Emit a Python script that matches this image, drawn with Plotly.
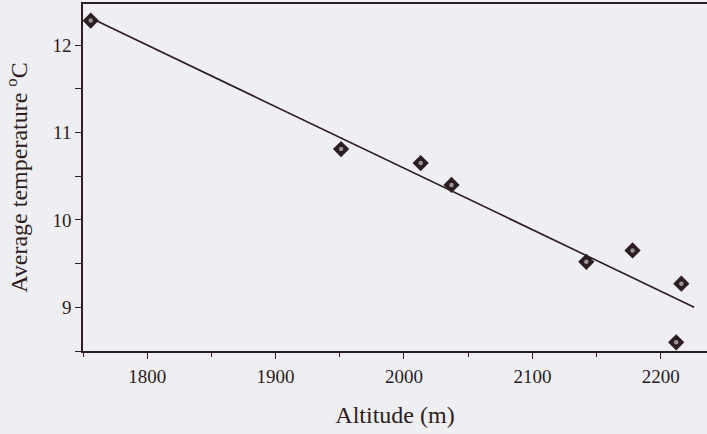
import numpy as np
import plotly.graph_objects as go

altitude = [1756, 1951, 2013, 2037, 2142, 2178, 2216, 2212]
temperature = [12.28, 10.81, 10.65, 10.40, 9.52, 9.65, 9.27, 8.60]
x_ticks = [1800, 1900, 2000, 2100, 2200]
y_ticks = [9, 10, 11, 12]
trend_end = 2226

slope, intercept = np.polyfit(altitude, temperature, 1)
trend_x = np.array([min(altitude), trend_end])
trend_y = slope * trend_x + intercept

ink = "#2b1d22"
bg = "#efeef3"
fig = go.Figure()
fig.add_trace(go.Scatter(x=trend_x, y=trend_y, mode="lines",
                         line=dict(color=ink, width=1.6), showlegend=False))
fig.add_trace(go.Scatter(x=altitude, y=temperature, mode="markers",
                         marker=dict(symbol="diamond", size=12.5, color=ink,
                                     line=dict(width=0)), showlegend=False))
fig.add_trace(go.Scatter(x=altitude, y=temperature, mode="markers",
                         marker=dict(symbol="circle", size=4.5, color="#9a9498",
                                     line=dict(width=0)), showlegend=False))

font = "Liberation Serif, Times New Roman, serif"
fig.update_layout(
    width=707, height=434,
    margin=dict(l=83, r=0, t=4, b=83),
    paper_bgcolor=bg, plot_bgcolor=bg,
    font=dict(family=font, color=ink, size=19),
    xaxis=dict(range=[1750, 2236], tickvals=x_ticks, ticks="outside", ticklen=6,
               tickwidth=1.2, tickcolor=ink, showline=True, linecolor=ink, linewidth=1.6,
               mirror=True, showgrid=False, zeroline=False, automargin=False,
               ticklabelstandoff=1,
               minor=dict(dtick=50, tick0=1750, ticks="outside", ticklen=4, tickcolor=ink, showgrid=False),
               title=dict(text="Altitude (m)", font=dict(size=24), standoff=21),
               tickfont=dict(size=19)),
    yaxis=dict(range=[8.5, 12.47], tickvals=y_ticks, ticks="outside", ticklen=6,
               tickwidth=1.2, tickcolor=ink, showline=True, linecolor=ink, linewidth=1.6,
               showgrid=False, zeroline=False, automargin=False,
               minor=dict(dtick=0.5, tick0=8.5, ticks="outside", ticklen=6, tickcolor=ink, showgrid=False),
               title=dict(text="Average temperature <sup>o</sup>C", font=dict(size=24), standoff=18),
               tickfont=dict(size=19)),
)
fig.write_html("out.html", config={"displayModeBar": False},
               post_script="document.body.style.margin='0';document.body.style.background='%s';" % bg)
